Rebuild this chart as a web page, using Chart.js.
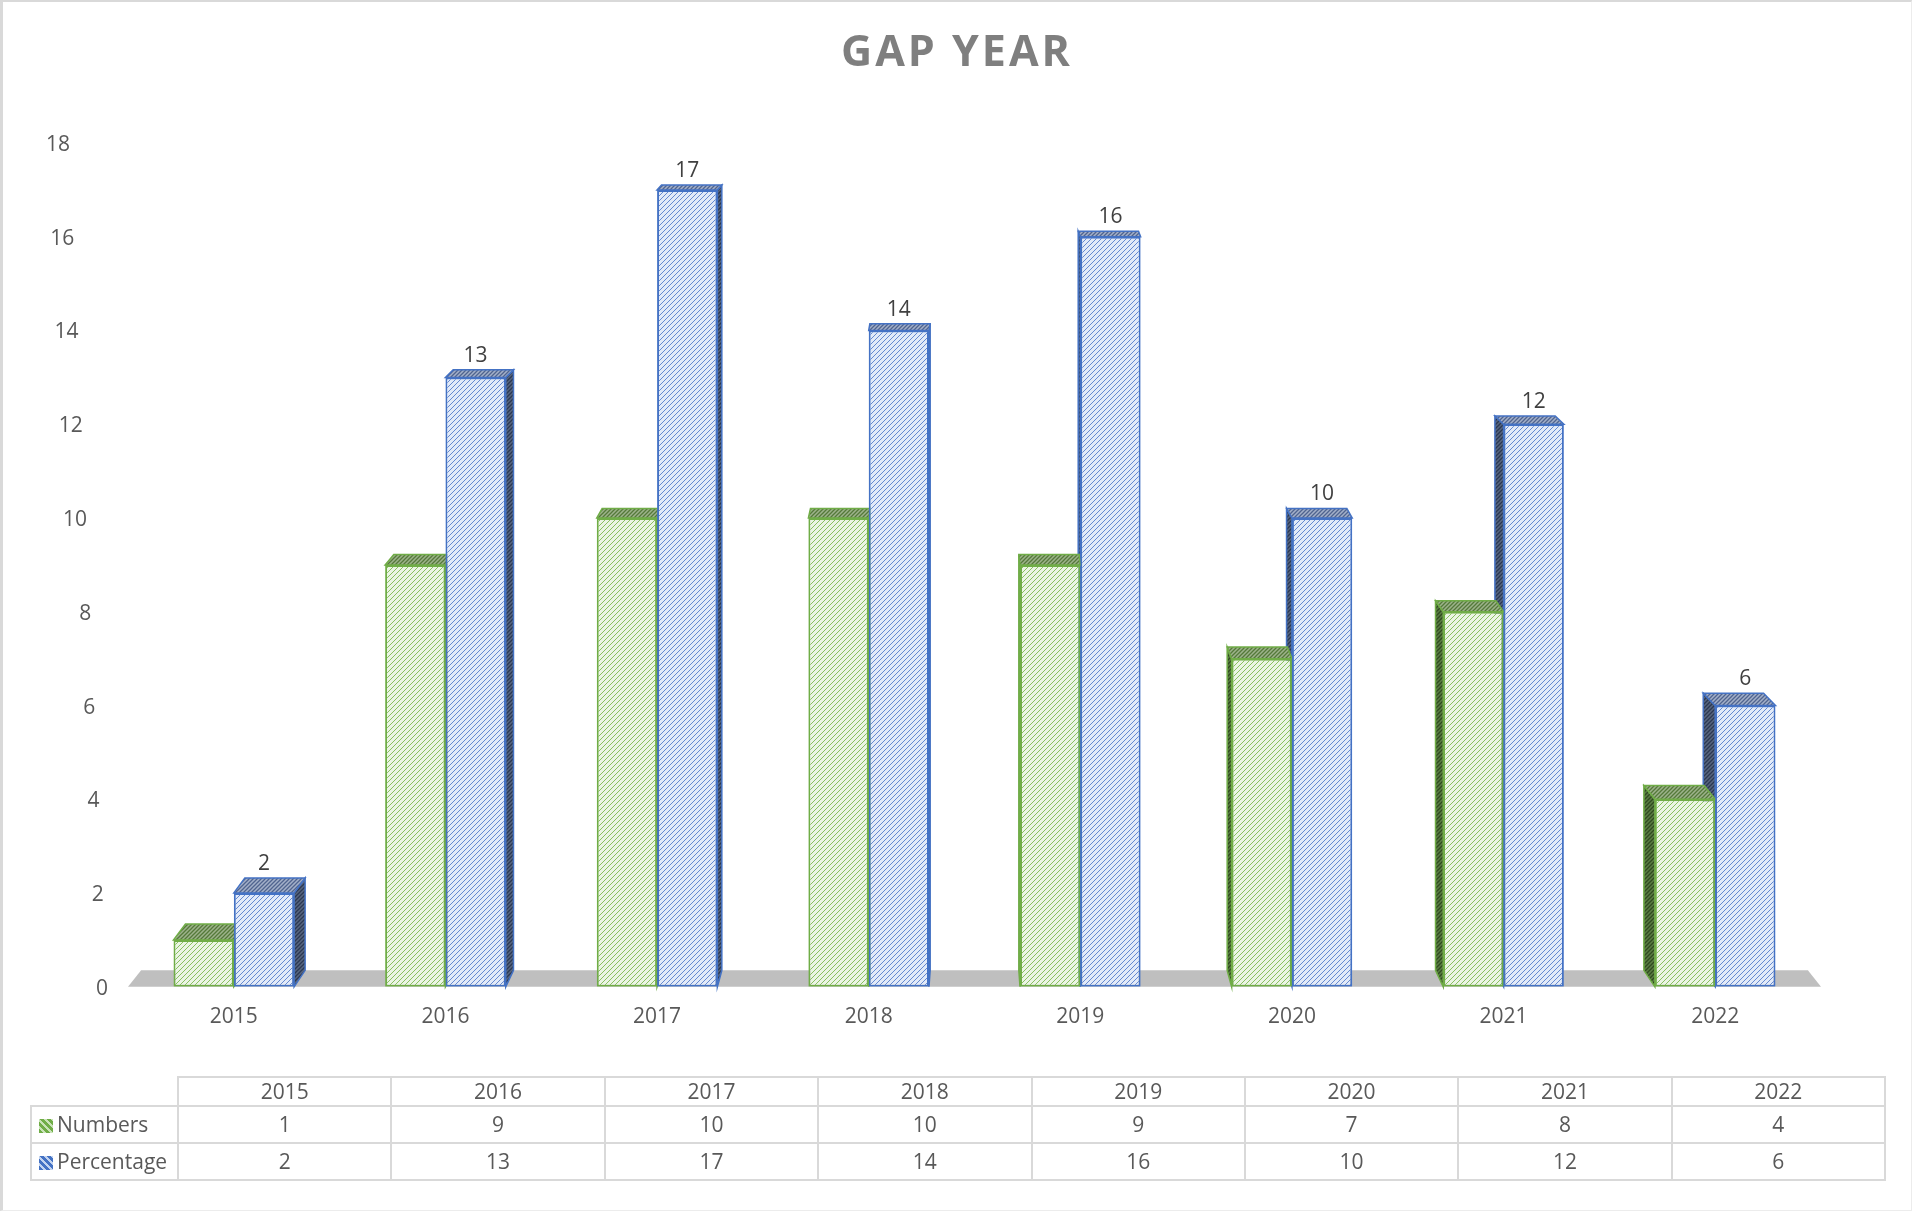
<!DOCTYPE html>
<html>
<head>
<meta charset="utf-8">
<script src="https://cdn.jsdelivr.net/npm/chart.js@4.4.1/dist/chart.umd.min.js"></script>
<style>
html, body { margin: 0; padding: 0; background: #fff; }
#wrap { position: relative; width: 1912px; height: 1211px; overflow: hidden; background: #fff; }
#chart { position: absolute; left: 0; top: 0; }
#frame { position: absolute; left: 0; top: 0; width: 1912px; height: 1211px; box-sizing: border-box;
  border-top: 2px solid #d9d9d9; border-left: 3px solid #d9d9d9; border-right: 1px solid #ececec; border-bottom: 1px solid #ececec; pointer-events: none; }
#table { position: absolute; left: 30px; top: 1076px; border-collapse: collapse; table-layout: fixed;
  font-family: 'Open Sans', sans-serif; font-size: 21px; color: #595959; }
#table td { border: 2px solid #d9d9d9; text-align: center; padding: 0; white-space: nowrap; }
#table tr.head td { height: 27px; line-height: 27px; }
#table tr.row td { height: 35px; line-height: 35px; }
#table td.name { text-align: left; padding-left: 7px; }
#table td.blank { border-top: none; border-left: none; }
.key { display: inline-block; width: 14px; height: 14px; margin-right: 4px; vertical-align: -1px; }
</style>
</head>
<body>
<div id="wrap">
  <canvas id="chart" width="1912" height="1211"></canvas>
  <table id="table"></table>
  <div id="frame"></div>
</div>
<script>
// données du graphique
const years = ['2015', '2016', '2017', '2018', '2019', '2020', '2021', '2022'];
const numbers = [1, 9, 10, 10, 9, 7, 8, 4];
const percentage = [2, 13, 17, 14, 16, 10, 12, 6];
const yTicks = [0, 2, 4, 6, 8, 10, 12, 14, 16, 18];

const FONT = "'Open Sans', sans-serif";

// motif hachuré "/"
function hatch(bg, line, size, width) {
    const c = document.createElement('canvas');
    c.width = size; c.height = size;
    const g = c.getContext('2d');
    g.fillStyle = bg;
    g.fillRect(0, 0, size, size);
    g.strokeStyle = line;
    g.lineWidth = width;
    g.beginPath();
    g.moveTo(0, size); g.lineTo(size, 0);
    g.moveTo(-1, 1); g.lineTo(1, -1);
    g.moveTo(size - 1, size + 1); g.lineTo(size + 1, size - 1);
    g.stroke();
    return g.createPattern(c, 'repeat');
}

const ctx = document.getElementById('chart').getContext('2d');

const styles = [
    { front: hatch('#ebf5e4', '#88c061', 5, 1.0), border: '#70ad47',
      top: hatch('#9db38b', '#55793a', 4, 1.3), side: hatch('#5b7c44', '#2f4b1f', 4, 1.3) },
    { front: hatch('#e2eaf8', '#6489d0', 5, 1.0), border: '#4472c4',
      top: hatch('#a3b0c9', '#50648f', 4, 1.3), side: hatch('#58667f', '#2b3852', 4, 1.3) }
];

// perspective approximative (point de fuite au centre)
function shiftX(chart, x) {
    const a = chart.chartArea;
    return -(x - (a.left + a.right) / 2) * 0.0155;
}
function depthY(y) {
    return (y + 135) * 0.0147;
}

const bars3d = {
    id: 'bars3d',
    beforeDatasetsDraw(chart) {
        const c = chart.ctx;
        const a = chart.chartArea;
        const yScale = chart.scales.y;
        const base = yScale.getPixelForValue(0);
        const db = depthY(base);

        // sol gris
        c.save();
        c.fillStyle = '#bfbfbf';
        c.beginPath();
        c.moveTo(a.left, base);
        c.lineTo(a.left + shiftX(chart, a.left), base - db);
        c.lineTo(a.right + shiftX(chart, a.right), base - db);
        c.lineTo(a.right, base);
        c.closePath();
        c.fill();

        const all = [];
        chart.data.datasets.forEach((ds, i) => {
            chart.getDatasetMeta(i).data.forEach(bar => {
                const p = bar.getProps(['x', 'y', 'width']);
                all.push({ st: styles[i], x1: p.x - p.width / 2, x2: p.x + p.width / 2, y: p.y,
                           dx: shiftX(chart, p.x), d: depthY(p.y) });
            });
        });

        // faces latérales
        all.forEach(b => {
            const ex = b.dx > 0 ? b.x2 : b.x1;
            c.fillStyle = b.st.side;
            c.strokeStyle = b.st.border;
            c.lineWidth = 1.5;
            c.beginPath();
            c.moveTo(ex, b.y);
            c.lineTo(ex + b.dx, b.y - b.d);
            c.lineTo(ex + b.dx, base - db);
            c.lineTo(ex, base);
            c.closePath();
            c.fill();
            c.stroke();
        });

        // dessus
        all.forEach(b => {
            c.fillStyle = b.st.top;
            c.strokeStyle = b.st.border;
            c.lineWidth = 1.5;
            c.beginPath();
            c.moveTo(b.x1, b.y);
            c.lineTo(b.x2, b.y);
            c.lineTo(b.x2 + b.dx, b.y - b.d);
            c.lineTo(b.x1 + b.dx, b.y - b.d);
            c.closePath();
            c.fill();
            c.stroke();
        });
        c.restore();
    },
    afterDatasetsDraw(chart) {
        const c = chart.ctx;
        const yScale = chart.scales.y;
        c.save();
        c.font = '21px ' + FONT;

        // étiquettes de l'axe Y
        c.fillStyle = '#595959';
        c.textAlign = 'right';
        c.textBaseline = 'middle';
        yTicks.forEach(v => {
            const py = yScale.getPixelForValue(v);
            c.fillText(String(v), 70 + (py - 143) * 0.0451, py + 2);
        });

        // valeurs au-dessus des barres "Percentage"
        c.fillStyle = '#404040';
        c.textAlign = 'center';
        c.textBaseline = 'alphabetic';
        chart.getDatasetMeta(1).data.forEach((bar, i) => {
            const p = bar.getProps(['x', 'y']);
            c.fillText(String(percentage[i]), p.x, p.y - depthY(p.y) - 8);
        });

        // titre
        c.font = 'bold 43px ' + FONT;
        c.fillStyle = '#7f7f7f';
        c.letterSpacing = '3px';
        c.fillText('GAP YEAR', chart.width / 2 + 1, 66);
        c.restore();
    }
};

new Chart(ctx, {
    type: 'bar',
    data: {
        labels: years,
        datasets: [
            { label: 'Numbers', data: numbers, backgroundColor: styles[0].front, borderColor: styles[0].border,
              borderWidth: 2, borderSkipped: false, categoryPercentage: 0.57, barPercentage: 1 },
            { label: 'Percentage', data: percentage, backgroundColor: styles[1].front, borderColor: styles[1].border,
              borderWidth: 2, borderSkipped: false, categoryPercentage: 0.57, barPercentage: 1 }
        ]
    },
    options: {
        responsive: false,
        animation: false,
        layout: { padding: { left: 128, right: 91, top: 143, bottom: 163 } },
        plugins: { legend: { display: false }, tooltip: { enabled: false }, title: { display: false } },
        scales: {
            x: {
                grid: { display: false, drawTicks: false },
                border: { display: false },
                ticks: { color: '#595959', font: { family: FONT, size: 21 }, padding: 18 }
            },
            y: { display: false, min: 0, max: 18 }
        }
    },
    plugins: [bars3d]
});

// tableau de données sous le graphique
const table = document.getElementById('table');
const colW = (1854 - 147) / years.length;
let html = '<colgroup><col style="width:147px">' + years.map(() => `<col style="width:${colW}px">`).join('') + '</colgroup>';
html += '<tr class="head"><td class="blank"></td>' + years.map(y => `<td>${y}</td>`).join('') + '</tr>';
const rows = [
    { name: 'Numbers', values: numbers, key: 'repeating-linear-gradient(45deg,#70ad47 0 3px,#c9e3b8 3px 5px)' },
    { name: 'Percentage', values: percentage, key: 'repeating-linear-gradient(45deg,#4472c4 0 3px,#c3d4f0 3px 5px)' }
];
rows.forEach(r => {
    html += `<tr class="row"><td class="name"><span class="key" style="background:${r.key}"></span>${r.name}</td>` +
        r.values.map(v => `<td>${v}</td>`).join('') + '</tr>';
});
table.innerHTML = html;
</script>
</body>
</html>
